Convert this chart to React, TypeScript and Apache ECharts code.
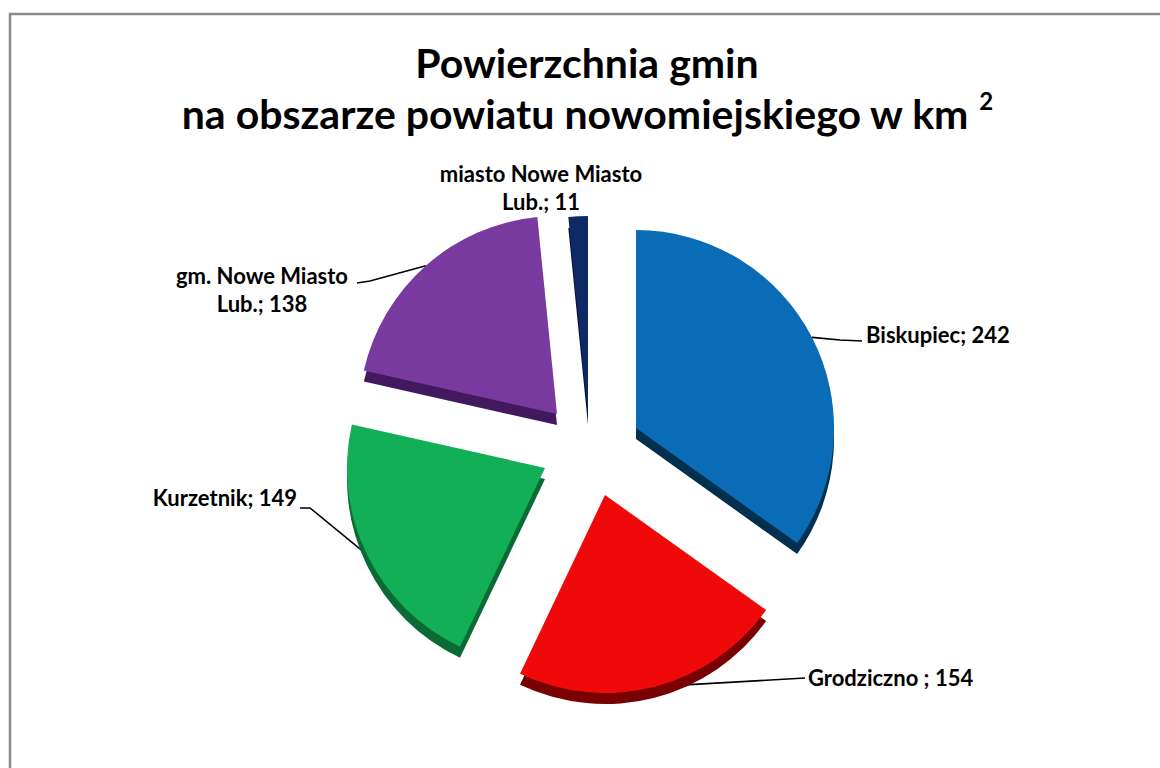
import React, { useEffect, useRef } from "react";
import * as echarts from "echarts";

// ---- data ----
const categories = [
  "Biskupiec",
  "Grodziczno ",
  "Kurzetnik",
  "gm. Nowe Miasto Lub.",
  "miasto Nowe Miasto Lub.",
];
const values = [242, 154, 149, 138, 11];
const titleMain = "Powierzchnia gmin";
const titleSub = "na obszarze powiatu nowomiejskiego w km";
const titleSup = "2";

// ---- styles / layout ----
const topColors = ["#0A6CB6", "#EF0909", "#12AF57", "#783A9E", "#0E2A66"];
const sideColors = ["#03304F", "#780202", "#0B6B34", "#43195E", "#071638"];
const sliceCenters: [number, number][] = [
  [636, 428],
  [605, 495],
  [545, 468],
  [557, 414],
  [588, 414],
];
const depth = 11;
const radius = 198;
const labelSpots: any[] = [
  { x: 866, y: 334, align: "left", line: [[840, 340], [862, 341]] },
  { x: 808, y: 677, align: "left", line: [[805, 678], [805, 678]] },
  { x: 297, y: 497, align: "right", line: [[310, 508], [300, 508]] },
  { x: 262, y: 289, align: "center", line: [[370, 281], [357, 283]] },
  { x: 541, y: 187, align: "center", line: null },
];
const FONT = "Lato, 'Open Sans', sans-serif";

export default function App() {
  const ref = useRef<HTMLDivElement>(null);
  useEffect(() => {
    if (!ref.current) return;
    const chart = echarts.init(ref.current, undefined, { renderer: "svg" });

    const series: any[] = [];
    // depth (side) layers
    categories.forEach((_, i) => {
      series.push({
        type: "pie",
        silent: true,
        radius,
        center: [sliceCenters[i][0], sliceCenters[i][1] + depth],
        startAngle: 90,
        clockwise: true,
        label: { show: false },
        labelLine: { show: false },
        emphasis: { disabled: true },
        itemStyle: { borderWidth: 0 },
        data: values.map((v, j) => ({
          name: categories[j],
          value: v,
          itemStyle: { color: j === i ? sideColors[i] : "transparent" },
        })),
      });
    });
    // top faces
    categories.forEach((_, i) => {
      const spot = labelSpots[i];
      series.push({
        type: "pie",
        silent: true,
        radius,
        center: sliceCenters[i],
        startAngle: 90,
        clockwise: true,
        avoidLabelOverlap: false,
        emphasis: { disabled: true },
        itemStyle: { borderWidth: 0 },
        label: {
          position: "outside",
          fontFamily: FONT,
          fontWeight: "bold",
          fontSize: 22,
          lineHeight: 28,
          color: "#000",
          formatter: (p: any) => `${p.name.replace(" Lub.", "\nLub.")}; ${p.value}`,
        },
        labelLine: {
          length: 10,
          length2: 20,
          lineStyle: { color: "#000", width: 1.6 },
        },
        labelLayout: (params: any) => {
          if (params.dataIndex !== i) return {};
          const out: any = {
            x: spot.x,
            y: spot.y,
            align: spot.align,
            verticalAlign: "middle",
          };
          if (spot.line && params.labelLinePoints) {
            out.labelLinePoints = [params.labelLinePoints[0], spot.line[0], spot.line[1]];
          }
          return out;
        },
        data: values.map((v, j) => ({
          name: categories[j],
          value: v,
          itemStyle: { color: j === i ? topColors[i] : "transparent" },
          label: { show: j === i },
          labelLine: { show: j === i && !!spot.line },
        })),
      });
    });

    chart.setOption({
      animation: false,
      backgroundColor: "#fff",
      title: {
        text: `${titleMain}\n${titleSub} {sup|${titleSup}}`,
        left: 582,
        textAlign: "center",
        top: 32,
        textStyle: {
          fontFamily: FONT,
          fontWeight: "bold",
          fontSize: 41,
          lineHeight: 51,
          color: "#000",
          rich: {
            sup: {
              fontFamily: FONT,
              fontWeight: "bold",
              fontSize: 24,
              color: "#000",
              verticalAlign: "top",
              lineHeight: 51,
              padding: [0, 0, 20, 0],
            },
          },
        },
      },
      graphic: [
        {
          type: "rect",
          silent: true,
          shape: { x: 10, y: 14, width: 1200, height: 800 },
          style: { fill: "none", stroke: "#8a8a8a", lineWidth: 2.5 },
          z: -10,
        },
      ],
      series,
    });
    return () => chart.dispose();
  }, []);
  return (
    <div
      ref={ref}
      style={{ position: "absolute", left: 0, top: 0, width: 1160, height: 768 }}
    />
  );
}
